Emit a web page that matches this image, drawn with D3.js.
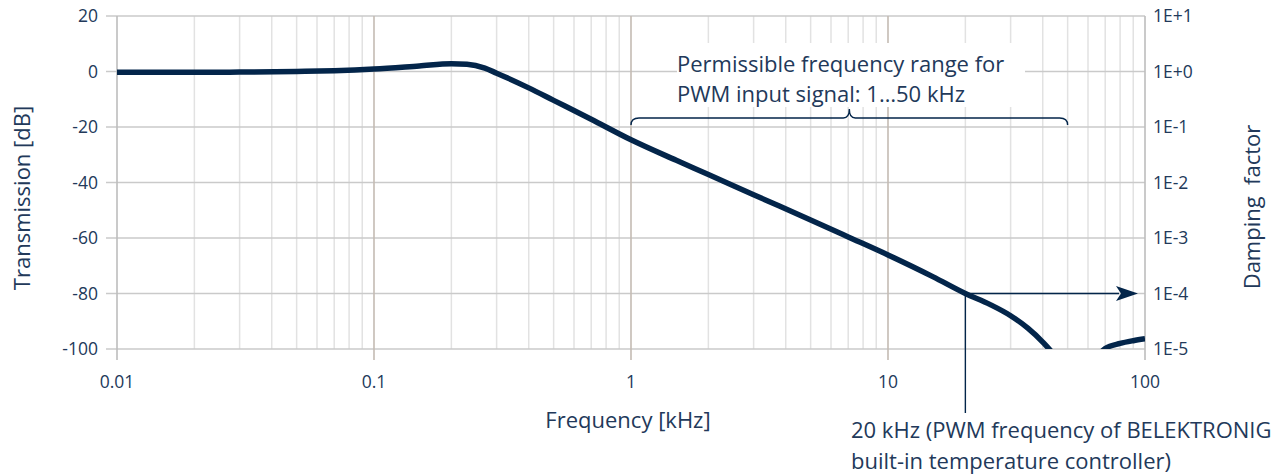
<!DOCTYPE html>
<html>
<head>
<meta charset="utf-8">
<script src="https://cdn.jsdelivr.net/npm/d3@7"></script>
<style>
  body { margin: 0; background: #fff; }
  text { font-family: "Open Sans", sans-serif; fill: #22395a; }
</style>
</head>
<body>
<div id="scene"></div>
<script>
// frequency response (kHz, dB)
var freqs = [0.01, 0.02, 0.03, 0.05, 0.07, 0.1, 0.15, 0.2, 0.23, 0.27, 0.3, 0.4, 0.5, 0.7,
             1, 1.5, 2, 3, 5, 7, 10, 15, 20, 25, 30, 35, 40, 45, 50, 55, 60, 65, 70, 80, 90, 100];
var transmission = [-0.3, -0.3, -0.2, 0.0, 0.3, 0.9, 2.0, 2.8, 2.6, 1.2, -0.6, -5.9, -10.4, -17.2,
                    -24.6, -32.0, -37.1, -44.4, -53.5, -59.6, -66.1, -74.0, -80.0, -84.0, -88.0, -92.5, -97.5,
                    -103, -110, -113, -108, -103, -99.8, -98, -97, -96.3];

var dbTicks = [-100, -80, -60, -40, -20, 0, 20];
var dampTicks = [1e-5, 1e-4, 1e-3, 1e-2, 1e-1, 1e0, 1e1];
var dampLabels = ["1E-5", "1E-4", "1E-3", "1E-2", "1E-1", "1E+0", "1E+1"];
var freqTicks = [0.01, 0.1, 1, 10, 100];
var freqLabels = ["0.01", "0.1", "1", "10", "100"];

var rangeFrom = 1, rangeTo = 50;   // permissible PWM range
var pwmFreq = 20, pwmDb = -80;     // controller frequency

var ctx = {
  w: 1279,
  h: 475,
  left: 117,
  right: 1145,
  top: 16,
  bottom: 349,
  curve: "#03254a"
};

var svg = d3.select("#scene").append("svg")
  .attr("width", ctx.w)
  .attr("height", ctx.h);

var x = d3.scaleLog().domain([0.01, 100]).range([ctx.left, ctx.right]);
var y = d3.scaleLinear().domain([-100, 20]).range([ctx.bottom, ctx.top]);
var y2 = d3.scaleLog().domain([1e-5, 1e1]).range([ctx.bottom, ctx.top]);

// vertical grid: minor lines in every decade, decades darker and longer
var vlines = [];
[0.01, 0.1, 1, 10].forEach(function(d) {
  for (var k = 2; k <= 9; k++) vlines.push(d * k);
});
svg.append("g").selectAll("line")
  .data(vlines)
  .enter().append("line")
  .attr("x1", function(d) { return x(d); })
  .attr("x2", function(d) { return x(d); })
  .attr("y1", ctx.top)
  .attr("y2", ctx.bottom)
  .attr("stroke", "#e2e2e2")
  .attr("stroke-width", 1.5);

// horizontal grid with ticks out to the left
svg.append("g").selectAll("line")
  .data(dbTicks)
  .enter().append("line")
  .attr("x1", ctx.left - 11)
  .attr("x2", ctx.right)
  .attr("y1", function(d) { return y(d); })
  .attr("y2", function(d) { return y(d); })
  .attr("stroke", "#cacaca")
  .attr("stroke-width", 1.5);

svg.append("g").selectAll("line")
  .data(freqTicks)
  .enter().append("line")
  .attr("x1", function(d) { return x(d); })
  .attr("x2", function(d) { return x(d); })
  .attr("y1", ctx.top)
  .attr("y2", ctx.bottom + 11)
  .attr("stroke", function(d, i) { return (i === 0 || i === freqTicks.length - 1) ? "#bdbdbd" : "#c4bbb3"; })
  .attr("stroke-width", 1.6);

// white box behind the annotation
svg.append("rect")
  .attr("x", 677).attr("y", 43)
  .attr("width", 348).attr("height", 64)
  .attr("fill", "#fff");

// tick labels
svg.append("g").selectAll("text")
  .data(dbTicks)
  .enter().append("text")
  .attr("x", ctx.left - 19)
  .attr("y", function(d) { return y(d); })
  .attr("dy", "0.35em")
  .attr("text-anchor", "end")
  .style("font-size", "17.5px")
  .text(function(d) { return d; });

svg.append("g").selectAll("text")
  .data(dampTicks)
  .enter().append("text")
  .attr("x", ctx.right + 8)
  .attr("y", function(d) { return y2(d); })
  .attr("dy", "0.35em")
  .style("font-size", "17.5px")
  .text(function(d, i) { return dampLabels[i]; });

svg.append("g").selectAll("text")
  .data(freqTicks)
  .enter().append("text")
  .attr("x", function(d) { return x(d); })
  .attr("y", 388)
  .attr("text-anchor", "middle")
  .style("font-size", "17.5px")
  .text(function(d, i) { return freqLabels[i]; });

// axis titles
svg.append("text")
  .attr("transform", "translate(30,198) rotate(-90)")
  .attr("text-anchor", "middle")
  .style("font-size", "22px")
  .text("Transmission [dB]");

svg.append("text")
  .attr("transform", "translate(1260,207) rotate(-90)")
  .attr("text-anchor", "middle")
  .style("font-size", "22px")
  .style("white-space", "pre")
  .text("Damping  factor");

svg.append("text")
  .attr("x", 628).attr("y", 428)
  .attr("text-anchor", "middle")
  .style("font-size", "22px")
  .text("Frequency [kHz]");

// the curve, clipped to the plot area
svg.append("clipPath").attr("id", "plotClip")
  .append("rect")
  .attr("x", ctx.left).attr("y", ctx.top)
  .attr("width", ctx.right - ctx.left).attr("height", ctx.bottom - ctx.top);

var line = d3.line()
  .x(function(d) { return x(d[0]); })
  .y(function(d) { return y(d[1]); })
  .curve(d3.curveMonotoneX);

svg.append("path")
  .datum(d3.zip(freqs, transmission))
  .attr("clip-path", "url(#plotClip)")
  .attr("d", line)
  .attr("fill", "none")
  .attr("stroke", ctx.curve)
  .attr("stroke-width", 5.5);

// brace over the permissible range
var bx0 = x(rangeFrom), bx1 = x(rangeTo);
var bxm = x(Math.sqrt(rangeFrom * rangeTo));
var by = 118;
svg.append("path")
  .attr("d", "M" + bx0 + "," + (by + 7) +
    " Q" + bx0 + "," + by + " " + (bx0 + 8) + "," + by +
    " L" + (bxm - 6) + "," + by +
    " Q" + bxm + "," + by + " " + bxm + "," + (by - 9) +
    " Q" + bxm + "," + by + " " + (bxm + 6) + "," + by +
    " L" + (bx1 - 8) + "," + by +
    " Q" + bx1 + "," + by + " " + bx1 + "," + (by + 7))
  .attr("fill", "none")
  .attr("stroke", ctx.curve)
  .attr("stroke-width", 1.4);

svg.append("text")
  .attr("x", 677).attr("y", 72)
  .style("font-size", "22px")
  .text("Permissible frequency range for");
svg.append("text")
  .attr("x", 677).attr("y", 102)
  .style("font-size", "22px")
  .text("PWM input signal: 1…50 kHz");

// 20 kHz marker and arrow to the damping axis
var px = x(pwmFreq), py = y(pwmDb);
svg.append("line")
  .attr("x1", px).attr("x2", px)
  .attr("y1", py).attr("y2", 413)
  .attr("stroke", ctx.curve).attr("stroke-width", 1.4);
svg.append("line")
  .attr("x1", px).attr("x2", ctx.right - 26)
  .attr("y1", py).attr("y2", py)
  .attr("stroke", ctx.curve).attr("stroke-width", 1.4);
svg.append("path")
  .attr("d", "M" + (ctx.right - 7) + "," + py +
    " L" + (ctx.right - 29) + "," + (py - 7.5) +
    " L" + (ctx.right - 24) + "," + py +
    " L" + (ctx.right - 29) + "," + (py + 7.5) + " Z")
  .attr("fill", ctx.curve);

svg.append("text")
  .attr("x", 851).attr("y", 438)
  .style("font-size", "22px")
  .text("20 kHz (PWM frequency of BELEKTRONIG");
svg.append("text")
  .attr("x", 851).attr("y", 469)
  .style("font-size", "22px")
  .text("built-in temperature controller)");
</script>
</body>
</html>
